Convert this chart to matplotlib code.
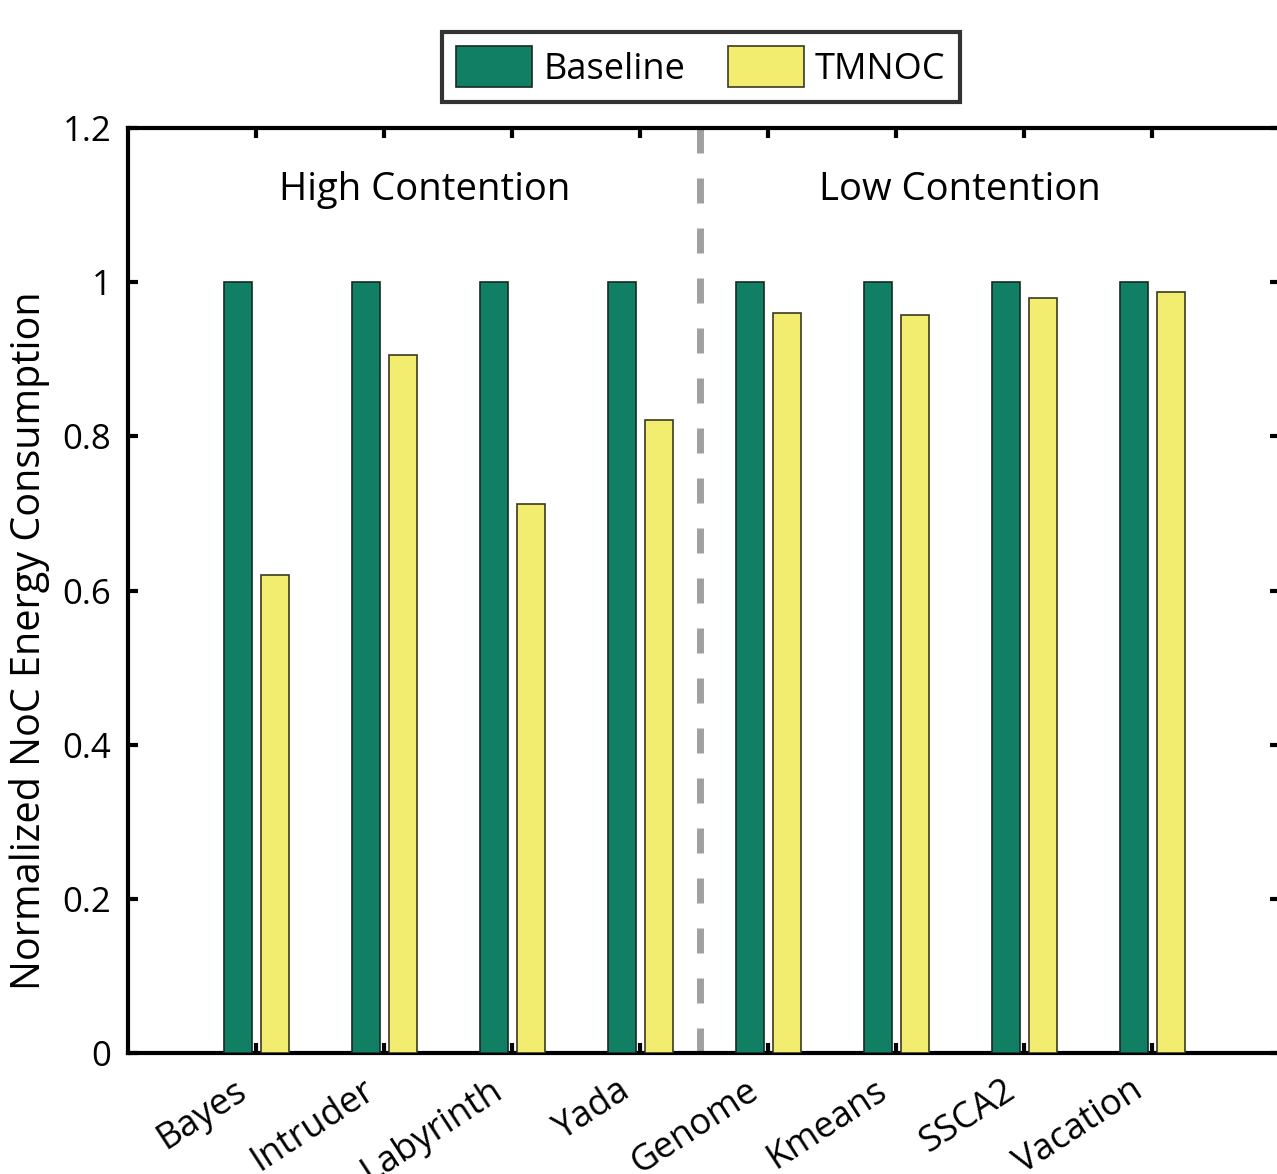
import numpy as np
import matplotlib.pyplot as plt
import matplotlib.transforms as mtransforms

benchmarks = ['Bayes', 'Intruder', 'Labyrinth', 'Yada', 'Genome', 'Kmeans', 'SSCA2', 'Vacation']
baseline = [1, 1, 1, 1, 1, 1, 1, 1]
tmnoc = [0.62, 0.906, 0.712, 0.821, 0.960, 0.957, 0.980, 0.987]

plt.rcParams['font.family'] = ['Open Sans', 'DejaVu Sans']

W, H = 1277, 1174
fig = plt.figure(figsize=(W / 100, H / 100), dpi=100)
ax = fig.add_axes([128 / W, (H - 1053) / H, (1280 - 128) / W, (1053 - 128) / H])

x = np.arange(1, len(benchmarks) + 1)
bw = 0.22
ax.bar(x - 0.14, baseline, bw, color='#117f64', edgecolor='#1a2a22', linewidth=1.2, label='Baseline', zorder=3)
ax.bar(x + 0.15, tmnoc, bw, color='#f2ed6e', edgecolor='#3a3a20', linewidth=1.2, label='TMNOC', zorder=3)

ax.set_xlim(0, 9)
ax.set_ylim(0, 1.2)
ax.set_yticks([0, 0.2, 0.4, 0.6, 0.8, 1, 1.2])
ax.set_yticklabels(['0', '0.2', '0.4', '0.6', '0.8', '1', '1.2'])
ax.set_xticks(x)
ax.set_xticklabels(benchmarks, rotation=33, ha='right', rotation_mode='anchor')

ax.tick_params(direction='in', length=7, width=3, top=True, right=True, labelsize=25, pad=12)
ax.tick_params(axis='x', pad=14, labelsize=26)
shift = mtransforms.ScaledTranslation(-22 / 100, 0, fig.dpi_scale_trans)
for lab in ax.get_xticklabels():
    lab.set_transform(lab.get_transform() + shift)
for s in ax.spines.values():
    s.set_linewidth(3)

ax.axvline(4.47, color='#a0a0a0', linestyle=(0, (3.6, 3.6)), linewidth=5, zorder=2)

ax.text(2.32, 1.12, 'High Contention', ha='center', va='center', fontsize=27.5)
ax.text(6.5, 1.12, 'Low Contention', ha='center', va='center', fontsize=27.5)

fig.text(30 / W, 1 - 641 / H, 'Normalized NoC Energy Consumption', rotation=90,
         ha='center', va='center', fontsize=28.5)

leg = fig.legend(loc='center', bbox_to_anchor=(701 / W, 1 - 67 / H), ncol=2, fontsize=26,
                 frameon=True, fancybox=False, edgecolor='black', handlelength=2.1,
                 handleheight=1.35, handletextpad=0.3, columnspacing=1.2, borderpad=0.4)
leg.get_frame().set_linewidth(3)

fig.savefig('out.png', dpi=100)
